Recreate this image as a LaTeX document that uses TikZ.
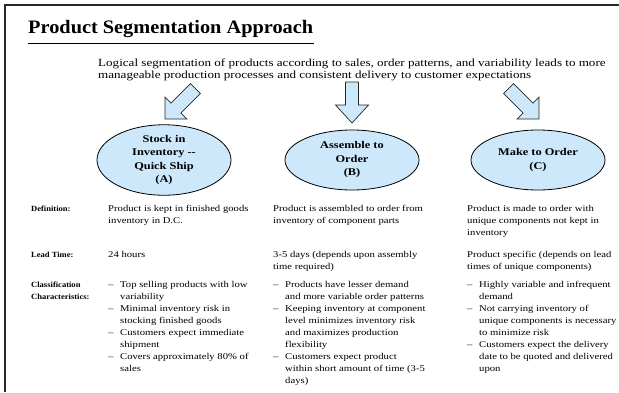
\documentclass[tikz,border=0pt]{standalone}
\usepackage{fontspec}
\setmainfont{Liberation Serif}[FakeStretch=1.2]
\newfontfamily\titlefont{Liberation Serif}[FakeStretch=1.07]
\newfontfamily\lblfont{Liberation Serif}[FakeStretch=1.08]
\usetikzlibrary{shapes.geometric}
\definecolor{ellfill}{RGB}{204,232,250}
\definecolor{framecol}{RGB}{40,40,40}
\newcommand\celltab[1]{\begin{tabular}[t]{@{}l@{}}#1\end{tabular}}
\newcommand\bultab[1]{\begin{tabular}[t]{@{}l@{}l@{}}#1\end{tabular}}
\newcommand\bu{\makebox[12pt][l]{--}}
\begin{document}
\begin{tikzpicture}[x=1pt,y=-1pt,
  ell/.style={ellipse, draw=black, line width=0.8pt, fill=ellfill, minimum width=134pt, minimum height=60pt, inner sep=0pt, align=center, font=\fontsize{10.3}{13.5}\selectfont\bfseries},
  bigarrow/.style={draw=black!85, line width=0.7pt, fill=ellfill, line join=miter},
  lbl/.style={anchor=base west, inner sep=0pt, font=\lblfont\fontsize{7.9}{12}\selectfont\bfseries},
  cell/.style={anchor=base west, inner sep=0pt, font=\fontsize{8.9}{12}\selectfont},
]
\useasboundingbox (0,0) rectangle (619,392);
% frame
\draw[framecol, line width=2.2pt] (5,392) -- (5,5) -- (619,5);
% title
\node[anchor=base west, inner sep=0pt, font=\titlefont\fontsize{19}{20}\selectfont\bfseries] (title) at (28,33) {Product Segmentation Approach};
\draw[line width=1.2pt] (28,43.5) -- (314,43.5);
% intro
\node[anchor=base west, inner sep=0pt, font=\fontsize{10.9}{12}\selectfont] (intro) at (98,66) {\celltab{Logical segmentation of products according to sales, order patterns, and variability leads to more\\manageable production processes and consistent delivery to customer expectations}};
% ellipses
\node[ell] (A) at (164,160) {Stock in\\Inventory -{}-\\Quick Ship\\(A)};
\node[ell] (B) at (352,160) {Assemble to\\Order\\(B)};
\node[ell] (C) at (538,160) {Make to Order\\(C)};
% block arrows
\coordinate (tipA) at (165,119);
\coordinate (tipB) at (352,123);
\coordinate (tipC) at (539,119);
\begin{scope}[shift={(tipA)}, rotate=225]
\draw[bigarrow] (0,0) -- (-15.5,15.5) -- (-15.5,7) -- (-43,7) -- (-43,-7) -- (-15.5,-7) -- (-15.5,-15.5) -- cycle;
\end{scope}
\begin{scope}[shift={(tipB)}, rotate=-90]
\draw[bigarrow] (0,0) -- (-18,16.5) -- (-18,6.5) -- (-41,6.5) -- (-41,-6.5) -- (-18,-6.5) -- (-18,-16.5) -- cycle;
\end{scope}
\begin{scope}[shift={(tipC)}, rotate=-45]
\draw[bigarrow] (0,0) -- (-15.5,15.5) -- (-15.5,7) -- (-43,7) -- (-43,-7) -- (-15.5,-7) -- (-15.5,-15.5) -- cycle;
\end{scope}
% table
\node[lbl] (l1) at (31,211) {Definition:};
\node[lbl] (l2) at (31,257) {Lead Time:};
\node[lbl] (l3) at (31,287) {\celltab{Classification\\Characteristics:}};
\node[cell] (d1) at (108,211) {\celltab{Product is kept in finished goods\\inventory in D.C.}};
\node[cell] (d2) at (273,211) {\celltab{Product is assembled to order from\\inventory of component parts}};
\node[cell] (d3) at (467,211) {\celltab{Product is made to order with\\unique components not kept in\\inventory}};
\node[cell] (t1) at (108,257) {24 hours};
\node[cell] (t2) at (273,257) {\celltab{3-5 days (depends upon assembly\\time required)}};
\node[cell] (t3) at (467,257) {\celltab{Product specific (depends on lead\\times of unique components)}};
\node[cell] (c1) at (108,287) {\bultab{\bu & Top selling products with low\\ & variability\\ \bu & Minimal inventory risk in\\ & stocking finished goods\\ \bu & Customers expect immediate\\ & shipment\\ \bu & Covers approximately 80\% of\\ & sales}};
\node[cell] (c2) at (273,287) {\bultab{\bu & Products have lesser demand\\ & and more variable order patterns\\ \bu & Keeping inventory at component\\ & level minimizes inventory risk\\ & and maximizes production\\ & flexibility\\ \bu & Customers expect product\\ & within short amount of time (3-5\\ & days)}};
\node[cell] (c3) at (467,287) {\bultab{\bu & Highly variable and infrequent\\ & demand\\ \bu & Not carrying inventory of\\ & unique components is necessary\\ & to minimize risk\\ \bu & Customers expect the delivery\\ & date to be quoted and delivered\\ & upon}};
\end{tikzpicture}
\end{document}
